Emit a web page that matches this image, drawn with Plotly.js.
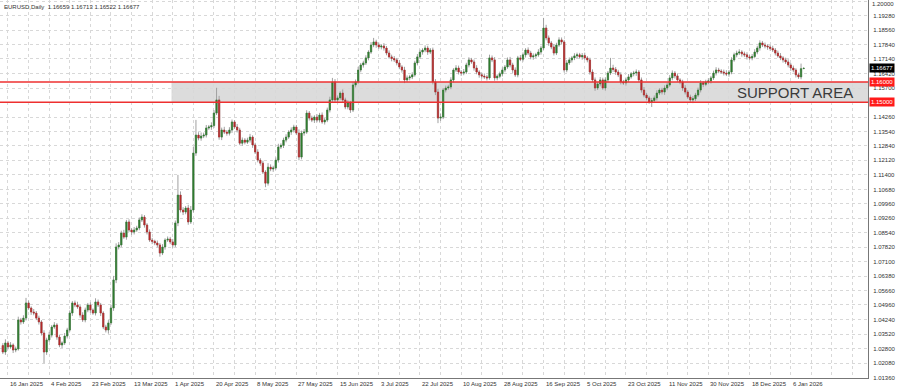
<!DOCTYPE html>
<html>
<head>
<meta charset="utf-8">
<script src="https://cdn.plot.ly/plotly-3.0.1.min.js"></script>
<style>html,body{margin:0;padding:0;background:#fff}#chart{width:900px;height:388px}</style>
</head>
<body>
<div id="chart"></div>
<script>
// Daily closes (EURUSD), one per bar
const closes = [
1.0263,1.0308,1.0288,1.0298,1.0273,1.0278,1.0422,1.0412,1.0431,1.0506,1.0481,1.0461,1.0456,1.0431,1.0412,1.0357,1.0263,1.0323,1.0347,1.0387,
1.0397,1.0337,1.0298,1.0308,1.0342,1.0372,1.0456,1.0506,1.0496,1.0486,1.0446,1.0422,1.0471,1.0496,1.0471,1.0456,1.0511,1.0496,1.0456,1.0387,
1.0372,1.0407,1.0481,1.0620,1.0783,1.0793,1.0852,1.0832,1.0907,1.0867,1.0857,1.0867,1.0877,1.0917,1.0931,1.0892,1.0857,1.0817,1.0811,1.0803,
1.0793,1.0753,1.0783,1.0817,1.0822,1.0808,1.0793,1.0902,1.1040,1.0966,1.0956,1.0976,1.0907,1.0966,1.1248,1.1337,1.1322,1.1332,1.1337,1.1372,
1.1377,1.1384,1.1446,1.1511,1.1327,1.1362,1.1352,1.1346,1.1362,1.1402,1.1377,1.1362,1.1297,1.1312,1.1302,1.1312,1.1327,1.1288,1.1253,1.1213,
1.1198,1.1154,1.1099,1.1178,1.1169,1.1174,1.1213,1.1278,1.1286,1.1312,1.1327,1.1352,1.1362,1.1377,1.1347,1.1228,1.1347,1.1352,1.1446,1.1421,
1.1411,1.1426,1.1411,1.1436,1.1402,1.1411,1.1461,1.1511,1.1600,1.1511,1.1521,1.1545,1.1511,1.1476,1.1496,1.1461,1.1585,1.1600,1.1659,1.1684,
1.1694,1.1719,1.1748,1.1783,1.1798,1.1783,1.1773,1.1778,1.1768,1.1743,1.1724,1.1716,1.1709,1.1694,1.1674,1.1659,1.1610,1.1620,1.1625,1.1635,
1.1694,1.1724,1.1748,1.1758,1.1768,1.1748,1.1758,1.1600,1.1550,1.1421,1.1426,1.1560,1.1570,1.1575,1.1610,1.1659,1.1669,1.1649,1.1644,1.1649,
1.1684,1.1709,1.1699,1.1669,1.1649,1.1635,1.1629,1.1625,1.1620,1.1719,1.1709,1.1620,1.1628,1.1640,1.1659,1.1674,1.1709,1.1684,1.1659,1.1635,
1.1719,1.1712,1.1734,1.1758,1.1743,1.1724,1.1729,1.1734,1.1748,1.1768,1.1867,1.1818,1.1793,1.1773,1.1743,1.1783,1.1808,1.1798,1.1659,1.1694,
1.1709,1.1719,1.1729,1.1734,1.1724,1.1731,1.1719,1.1709,1.1649,1.1610,1.1570,1.1590,1.1610,1.1570,1.1610,1.1644,1.1669,1.1662,1.1649,1.1635,
1.1600,1.1595,1.1610,1.1625,1.1640,1.1644,1.1649,1.1610,1.1560,1.1535,1.1521,1.1501,1.1508,1.1521,1.1545,1.1560,1.1550,1.1570,1.1585,1.1620,
1.1644,1.1630,1.1610,1.1600,1.1570,1.1550,1.1525,1.1511,1.1517,1.1535,1.1560,1.1595,1.1588,1.1600,1.1605,1.1620,1.1644,1.1659,1.1654,1.1649,
1.1644,1.1639,1.1649,1.1709,1.1734,1.1743,1.1748,1.1739,1.1734,1.1724,1.1719,1.1726,1.1748,1.1768,1.1793,1.1783,1.1778,1.1773,1.1766,1.1758,
1.1743,1.1729,1.1719,1.1709,1.1699,1.1684,1.1669,1.1659,1.1635,1.1625,1.16659,1.16677
];
const firstOpen = 1.0295;
// upper / lower wick lengths in pips (0.0001)
const upperWick = [
12,18,10,14,8,12,16,10,14,25,12,8,15,10,12,9,14,11,16,10,
14,9,12,8,15,11,13,10,12,16,9,14,12,10,13,8,18,12,10,9,
11,14,16,20,18,14,12,16,10,13,9,15,11,12,14,10,9,13,11,8,
12,10,14,9,13,11,15,12,100,18,14,10,16,20,30,75,14,18,12,15,
10,16,14,60,20,12,16,10,14,12,9,15,11,13,10,12,16,9,11,14,
10,12,9,20,14,11,13,16,10,12,14,9,13,11,10,18,12,15,14,10,
12,9,14,11,13,10,12,16,20,14,12,9,18,11,13,10,14,12,16,10,
11,13,9,14,20,11,12,9,14,10,13,11,12,10,14,9,16,12,10,13,
11,14,12,9,13,11,10,12,14,16,18,10,12,11,13,9,14,12,10,15,
11,13,10,12,14,9,11,13,10,16,12,14,9,11,13,10,12,15,11,13,
10,14,12,9,13,11,12,10,14,11,50,16,12,10,14,11,13,12,10,14,
12,9,13,11,10,12,14,9,11,13,12,10,14,11,13,10,50,16,12,11,
13,10,12,14,9,11,13,10,12,15,11,10,13,12,14,9,11,13,12,14,
13,10,12,9,11,14,10,12,13,11,12,14,9,11,13,10,12,14,11,9,
12,14,10,13,11,12,14,9,11,13,10,12,14,11,13,10,12,9,11,13,
10,12,14,9,11,13,10,12,9,11,25,0.4
];
const lowerWick = [
10,14,12,9,15,11,8,13,10,12,9,14,11,10,13,12,55,14,10,12,
9,13,11,15,10,12,8,14,11,9,13,10,12,11,14,9,12,10,15,11,
12,18,10,14,16,12,11,9,13,10,14,12,9,11,10,13,12,9,14,11,
12,18,10,13,9,11,14,10,16,12,15,11,14,10,12,14,11,13,10,12,
9,14,11,10,13,15,10,12,11,14,9,12,10,13,11,9,12,14,10,11,
13,10,20,12,11,14,9,12,10,13,11,9,14,12,10,16,11,13,9,12,
10,14,11,12,9,13,10,12,14,11,16,10,13,11,12,14,10,12,9,11,
13,10,12,9,11,14,10,12,13,11,9,14,10,12,11,13,16,10,12,11,
9,12,10,13,11,14,10,12,15,25,14,10,12,9,11,13,10,12,14,11,
10,12,9,13,11,14,12,10,13,9,11,14,12,10,13,11,9,12,14,10,
12,9,11,13,10,12,14,11,9,13,10,12,14,11,12,10,9,13,12,11,
10,13,11,12,9,14,10,12,13,11,14,10,12,9,13,11,10,12,14,11,
12,10,13,11,9,12,14,10,13,11,12,9,25,11,13,10,12,14,11,9,
12,13,10,11,14,12,9,13,16,11,10,12,14,9,11,13,10,12,11,9,
12,10,13,11,9,12,10,14,11,13,10,12,9,11,13,10,12,14,11,10,
12,9,11,13,10,12,14,11,13,10,12,1.4
];
const dateLabels = ['16 Jan 2025','4 Feb 2025','23 Feb 2025','13 Mar 2025','1 Apr 2025','20 Apr 2025','8 May 2025','27 May 2025','15 Jun 2025','3 Jul 2025','22 Jul 2025','10 Aug 2025','28 Aug 2025','16 Sep 2025','5 Oct 2025','23 Oct 2025','11 Nov 2025','30 Nov 2025','18 Dec 2025','6 Jan 2026'];
const dateBars = [2,18,34,50,66,82,98,114,130,146,162,178,194,210,226,242,258,274,290,306];
const priceLabels = ['1.01360','1.02080','1.02800','1.03520','1.04240','1.04960','1.05660','1.06380','1.07100','1.07820','1.08540','1.09260','1.09960','1.10680','1.11400','1.12120','1.12840','1.13540','1.14260','1.14980','1.15700','1.16420','1.17140','1.17840','1.18560','1.19280','1.20000'];
const hiddenLabels = ['1.14980'];
const topLabel = '1.20000';   // drawn at the top edge so it is not clipped
const supportTop = 1.16000, supportBottom = 1.15000;
const supportStartBar = 66;
const lastPrice = 1.16677;
const header = 'EURUSD,Daily  1.16659 1.16713 1.16522 1.16677';

const x = closes.map((_, i) => i);
const opens = closes.map((c, i) => i === 0 ? firstOpen : closes[i - 1]);
const highs = closes.map((c, i) => Math.max(opens[i], c) + upperWick[i] * 0.0001);
const lows = closes.map((c, i) => Math.min(opens[i], c) - lowerWick[i] * 0.0001);
const bodyHi = closes.map((c, i) => Math.max(opens[i], c));
const bodyLo = closes.map((c, i) => Math.min(opens[i], c));

const GREEN = '#2f7d2f', RED = '#b52a2a', WICK = '#a0a0a0';
const FONT = 'Liberation Sans, Arial';
const wicks = {
  type: 'candlestick', x: x, open: opens, high: highs, low: lows, close: closes,
  increasing: {line: {color: WICK, width: 1}, fillcolor: WICK},
  decreasing: {line: {color: WICK, width: 1}, fillcolor: WICK},
  hoverinfo: 'skip', showlegend: false
};
const bodies = {
  type: 'candlestick', x: x, open: opens, high: bodyHi, low: bodyLo, close: closes,
  increasing: {line: {color: GREEN, width: 0.5}, fillcolor: GREEN},
  decreasing: {line: {color: RED, width: 0.5}, fillcolor: RED},
  hoverinfo: 'skip', showlegend: false
};

const gridBars = [];
for (let k = 0; 2 + 8 * k <= 336; k++) gridBars.push(2 + 8 * k);

const annotations = dateLabels.map((t, k) => ({
  text: t, x: dateBars[k], xref: 'x', xanchor: 'left', y: 0, yref: 'paper', yanchor: 'top',
  showarrow: false, font: {size: 6, color: '#333', family: FONT}, borderpad: 0, xshift: 1, yshift: -2
}));
annotations.push({text: header, x: 0, xref: 'paper', xanchor: 'left', y: 1, yref: 'paper', yanchor: 'top',
  showarrow: false, font: {size: 6, color: '#333', family: FONT}, xshift: 3, yshift: -3, borderpad: 0});
annotations.push({text: topLabel, x: 1, xref: 'paper', xanchor: 'left', y: 1, yref: 'paper', yanchor: 'top',
  showarrow: false, font: {size: 6, color: '#333', family: FONT}, xshift: 3, yshift: 0, borderpad: 0});
annotations.push({text: 'SUPPORT AREA', x: 307.5, xref: 'x', xanchor: 'center', y: (supportTop + supportBottom) / 2, yref: 'y', yanchor: 'middle',
  showarrow: false, font: {size: 15, color: '#3a3a3a', family: FONT}});
const boxes = [[lastPrice, '#000000', '1.16677'], [supportTop, '#ff1a1a', '1.16000'], [supportBottom, '#ff1a1a', '1.15000']];
boxes.forEach(b => annotations.push({text: b[2], x: 1, xref: 'paper', xanchor: 'left', y: b[0], yref: 'y', yanchor: 'middle',
  showarrow: false, bgcolor: b[1], font: {size: 6, color: '#fff', family: FONT}, borderpad: 1, xshift: 1}));

const layout = {
  width: 900, height: 388,
  margin: {l: 0, r: 32, t: 0, b: 10},
  paper_bgcolor: '#fff', plot_bgcolor: '#fff',
  showlegend: false, hovermode: false,
  boxgap: 0.3,
  xaxis: {
    range: [-1.1, 336], type: 'linear', rangeslider: {visible: false},
    tickvals: gridBars, showticklabels: false, ticks: '',
    showgrid: true, gridcolor: '#d8d8d8', griddash: 'dot', gridwidth: 1,
    zeroline: false, showline: true, linecolor: '#777', linewidth: 1, mirror: true
  },
  yaxis: {
    range: [1.01345, 1.20056], side: 'right',
    tickvals: priceLabels.map(Number),
    ticktext: priceLabels.map(t => (hiddenLabels.includes(t) || t === topLabel) ? '' : t),
    tickfont: {size: 6, color: '#333', family: FONT},
    ticks: '', ticklabelstandoff: 3,
    showgrid: true, gridcolor: '#d8d8d8', griddash: 'dot', gridwidth: 1,
    zeroline: false, showline: true, linecolor: '#777', linewidth: 1, mirror: true
  },
  shapes: [
    {type: 'rect', xref: 'x', yref: 'y', x0: supportStartBar - 0.5, x1: 336, y0: supportBottom, y1: supportTop,
     fillcolor: '#dcdcdc', line: {width: 0}, layer: 'below'},
    {type: 'line', xref: 'paper', yref: 'y', x0: 0, x1: 1, y0: supportTop, y1: supportTop, line: {color: '#ee3030', width: 1.5}},
    {type: 'line', xref: 'paper', yref: 'y', x0: 0, x1: 1, y0: supportBottom, y1: supportBottom, line: {color: '#ee3030', width: 1.5}}
  ],
  annotations: annotations
};
Plotly.newPlot('chart', [wicks, bodies], layout, {staticPlot: true, displayModeBar: false});
</script>
</body>
</html>
